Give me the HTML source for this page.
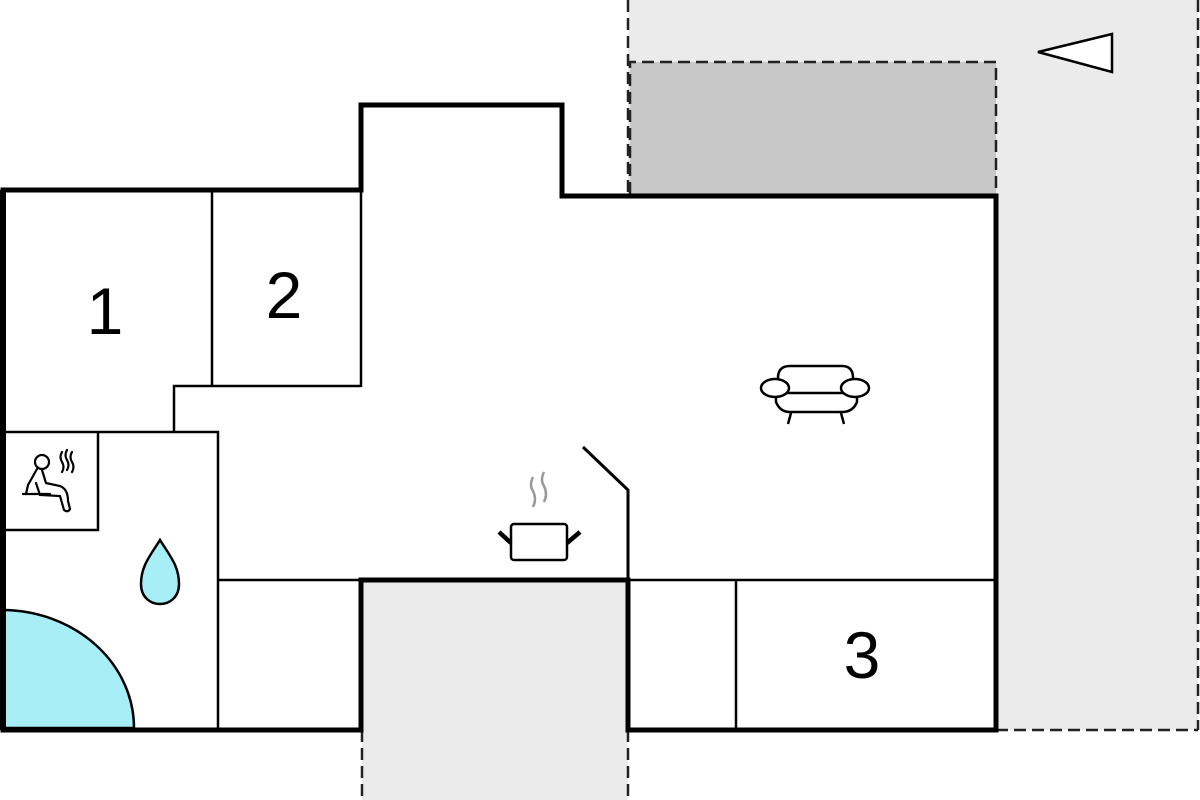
<!DOCTYPE html>
<html><head><meta charset="utf-8"><style>
html,body{margin:0;padding:0;background:#fff;}
svg{display:block;}
text{font-family:"Liberation Sans",Arial,sans-serif;}
</style></head><body>
<svg width="1200" height="800" viewBox="0 0 1200 800" xmlns="http://www.w3.org/2000/svg">
<rect x="628" y="0" width="570" height="730" fill="#ebebeb"/>
<rect x="362" y="580" width="266" height="220" fill="#ebebeb"/>
<rect x="630" y="62" width="366" height="132" fill="#c8c8c8"/>
<g stroke="#222" stroke-width="2.5" stroke-dasharray="12,6" fill="none">
<line x1="628" y1="0" x2="628" y2="194"/>
<line x1="1198" y1="0" x2="1198" y2="730"/>
<line x1="996" y1="730" x2="1198" y2="730"/>
<polyline points="630,194 630,62 996,62 996,194"/>
<line x1="362" y1="730" x2="362" y2="800"/>
<line x1="628" y1="730" x2="628" y2="800"/>
</g>
<polygon points="3,190 361,190 361,105 562,105 562,196 996,196 996,730 628,730 628,580 361,580 361,730 3,730" fill="#fff"/>
<path d="M3,728 L3,610 A132,118 0 0 1 134,728 Z" fill="#a8eef7" stroke="#000" stroke-width="2.5"/>
<g stroke="#000" stroke-width="2.5" fill="none">
<line x1="212" y1="190" x2="212" y2="386"/>
<line x1="361" y1="190" x2="361" y2="387"/>
<polyline points="361,386 174,386 174,432"/>
<polyline points="3,432 218,432 218,730"/>
<polyline points="98,432 98,530 3,530"/>
<line x1="218" y1="580" x2="361" y2="580"/>
<line x1="628" y1="580" x2="996" y2="580"/>
<line x1="736" y1="580" x2="736" y2="730"/>
<polyline points="583,447 628,490 628,580" stroke-width="3"/>
</g>
<polygon points="3,190 361,190 361,105 562,105 562,196 996,196 996,730 628,730 628,580 361,580 361,730 3,730" fill="none" stroke="#000" stroke-width="5" stroke-linejoin="miter"/>
<line x1="3" y1="190" x2="3" y2="730" stroke="#000" stroke-width="6"/>
<line x1="361" y1="580" x2="628" y2="580" stroke="#000" stroke-width="5"/>
<polygon points="1038,52 1112,34 1112,72" fill="#fff" stroke="#000" stroke-width="2.5"/>
<text x="105" y="334" font-size="66" text-anchor="middle">1</text>
<text x="284" y="318" font-size="66" text-anchor="middle">2</text>
<text x="862" y="678" font-size="66" text-anchor="middle">3</text>
<g stroke="#000" stroke-width="2.2" fill="none" stroke-linecap="round">
<circle cx="42" cy="462" r="7"/>
<path d="M37,469 L28,485 L26,494 M42,470 L46,483 L60,486 Q68,489 68,501 L70,509 Q68,513 64,510 L60,496 L40,495 L36,483"/>
<line x1="23" y1="494" x2="50" y2="494"/>
<path d="M62,452 q-3,5 0,10 q3,5 0,10 M67,450 q-3,5 0,10 q3,5 0,10 M72,452 q-3,5 0,10 q3,5 0,10"/>
</g>
<path d="M160,540 C150,556 141,566 141,584 C141,597 150,604 160,604 C170,604 179,597 179,584 C179,566 170,556 160,540 Z" fill="#a8eef7" stroke="#000" stroke-width="2.5"/>
<g stroke="#000" stroke-width="2.5" fill="none">
<rect x="511" y="524" width="56" height="36" rx="3" fill="#fff"/>
<line x1="499" y1="532" x2="511" y2="543" stroke-width="4.5"/>
<line x1="580" y1="532" x2="567" y2="543" stroke-width="4.5"/>
</g>
<g stroke="#999" stroke-width="2.5" fill="none">
<path d="M533,477 q-4,8 0,14 q4,8 0,16"/>
<path d="M544,472 q-4,8 0,14 q4,8 0,16"/>
</g>
<g stroke="#000" stroke-width="2.5" fill="#fff">
<path d="M778,392 L778,378 Q778,366 790,366 L842,366 Q853,366 853,378 L853,392"/>
<path d="M776,392 L776,402 Q780,412 790,412 L842,412 Q853,412 857,402 L857,392"/>
<line x1="787" y1="393" x2="843" y2="393"/>
<ellipse cx="775" cy="388" rx="14" ry="9"/>
<ellipse cx="855" cy="388" rx="14" ry="9"/>
<line x1="791" y1="413" x2="788" y2="424"/>
<line x1="841" y1="413" x2="844" y2="424"/>
</g>
</svg>
</body></html>
